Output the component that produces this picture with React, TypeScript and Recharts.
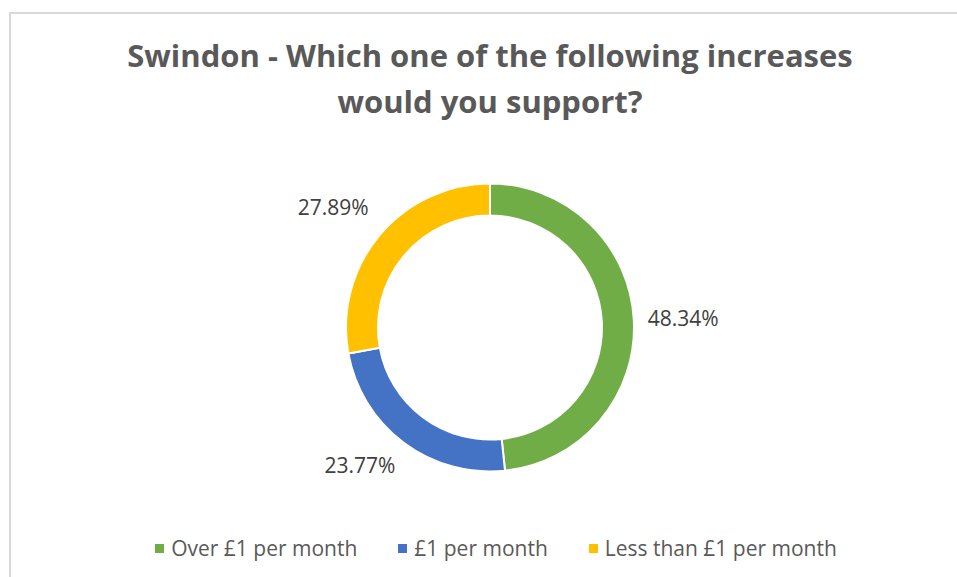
import { PieChart, Pie, Cell, Legend } from 'recharts'

const categories = ['Over £1 per month', '£1 per month', 'Less than £1 per month']
const shares = [48.34, 23.77, 27.89]
const colors = ['#70ad47', '#4472c4', '#ffc000']

const titleLines = ['Swindon - Which one of the following increases', 'would you support?']

const data = categories.map((name, i) => ({ name, value: shares[i] }))

const RAD = Math.PI / 180

function renderLabel(props: any) {
  const { cx, cy, midAngle, outerRadius, value } = props
  const r = outerRadius + 14
  const cos = Math.cos(-midAngle * RAD)
  const sin = Math.sin(-midAngle * RAD)
  const x = cx + r * cos
  const y = cy + r * sin + sin * 22 - Math.abs(sin) * 8
  return (
    <text
      x={x}
      y={y}
      fill="#404040"
      fontSize={21}
      fontFamily="'Open Sans', sans-serif"
      textAnchor={cos >= 0 ? 'start' : 'end'}
      dominantBaseline="central"
    >
      {value.toFixed(2)}%
    </text>
  )
}

function renderLegend(props: any) {
  const { payload } = props
  return (
    <div
      style={{
        display: 'flex',
        justifyContent: 'center',
        gap: 41,
        paddingLeft: 35,
        fontFamily: "'Open Sans', sans-serif",
        fontSize: 21,
        color: '#595959',
      }}
    >
      {payload.map((entry: any) => (
        <div key={entry.value} style={{ display: 'flex', alignItems: 'center', gap: 7 }}>
          <span style={{ width: 9, height: 9, background: entry.color, display: 'inline-block' }} />
          <span>{entry.value}</span>
        </div>
      ))}
    </div>
  )
}

export default function App() {
  return (
    <div style={{ position: 'absolute', left: 0, top: 0, width: 957, height: 577, background: '#fff', overflow: 'hidden' }}>
      {/* chart frame, right and bottom edges run off the picture */}
      <div
        style={{
          position: 'absolute',
          left: 9,
          top: 12,
          width: 1000,
          height: 700,
          border: '2px solid #d9d9d9',
          boxSizing: 'border-box',
        }}
      />
      <div
        style={{
          position: 'absolute',
          left: 23,
          top: 32,
          width: 934,
          textAlign: 'center',
          fontFamily: "'Open Sans', sans-serif",
          fontWeight: 700,
          fontSize: 31,
          lineHeight: '46px',
          color: '#595959',
        }}
      >
        {titleLines.map((t) => (
          <div key={t}>{t}</div>
        ))}
      </div>
      <div style={{ position: 'absolute', left: 0, top: 0 }}>
        <PieChart width={957} height={577} margin={{ top: 0, right: 0, bottom: 0, left: 0 }}>
          <Pie
            data={data}
            dataKey="value"
            nameKey="name"
            cx={490}
            cy={327.5}
            innerRadius={112}
            outerRadius={144}
            startAngle={90}
            endAngle={-270}
            stroke="#fff"
            strokeWidth={2}
            label={renderLabel}
            labelLine={false}
            isAnimationActive={false}
          >
            {data.map((d, i) => (
              <Cell key={d.name} fill={colors[i]} />
            ))}
          </Pie>
          <Legend
            content={renderLegend}
            itemSorter={(item: any) => categories.indexOf(item.value)}
            wrapperStyle={{ position: 'absolute', left: 0, top: 534, width: 957 }}
          />
        </PieChart>
      </div>
    </div>
  )
}
